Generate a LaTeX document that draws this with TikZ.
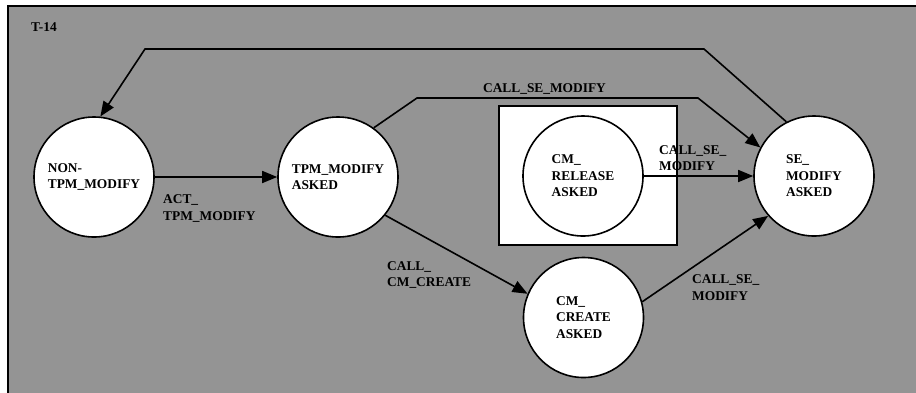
\documentclass[tikz,border=0pt]{standalone}
\usepackage{fontspec}
\setmainfont{Liberation Serif}
\usetikzlibrary{arrows.meta}
\definecolor{bggray}{RGB}{148,148,148}
\tikzset{
  state/.style={circle, draw=black, fill=white, line width=1.6pt, minimum size=120pt, inner sep=0pt, align=left, font=\fontsize{13.4}{16.5}\selectfont\bfseries},
  lbl/.style={inner sep=0pt, align=left, font=\fontsize{13.4}{16.5}\selectfont\bfseries},
  conn/.style={line width=1.6pt, line join=miter},
  arr/.style={conn, -{Triangle[length=15pt,width=12pt]}},
  frame/.style={line width=2.2pt},
}
\begin{document}
\begin{tikzpicture}[x=1pt,y=-1pt]
\useasboundingbox (0,0) rectangle (916,392);
\clip (0,0) rectangle (916,392);
\fill[bggray] (8,6) rectangle (940,420);
\draw[frame] (8,420) -- (8,6) -- (940,6);
% white box
\draw[fill=white, line width=1.8pt] (499,106) rectangle (677,245);
% states
\node[state] (non) at (94,177) {NON-\\TPM\_MODIFY};
\node[state] (tpm) at (338,177) {TPM\_MODIFY\\ASKED};
\node[state] (cmr) at (583,176) {CM\_\\RELEASE\\ASKED};
\node[state] (se) at (814,176) {SE\_\\MODIFY\\ASKED};
\node[state] (cmc) at (583.5,317.5) {CM\_\\CREATE\\ASKED};
% corners
\coordinate (r1) at (704,49);
\coordinate (r2) at (145,49);
\coordinate (u1) at (417,98);
\coordinate (u2) at (698,98);
% connectors
\draw[arr] (non) -- (tpm);
\draw[arr] (se.117) -- (r1) -- (r2) -- (non.84);
\draw[arr] (tpm.54) -- (u1) -- (u2) -- (se.152);
\draw[arr] (cmr) -- (se);
\draw[arr] (tpm.-39) -- (cmc.157);
\draw[arr] (cmc.15) -- (se.-139);
% labels
\node[lbl, anchor=west] (t14) at (31,27) {T-14};
\node[lbl, anchor=west] (lact) at (163,208.5) {ACT\_\\TPM\_MODIFY};
\node[lbl] (lup) at (544.5,89) {CALL\_SE\_MODIFY};
\node[lbl, anchor=west] (lmid) at (659,158) {CALL\_SE\_\\MODIFY};
\node[lbl, anchor=west] (lcc) at (387,275) {CALL\_\\CM\_CREATE};
\node[lbl, anchor=west] (llow) at (692,287.5) {CALL\_SE\_\\MODIFY};
\end{tikzpicture}
\end{document}
